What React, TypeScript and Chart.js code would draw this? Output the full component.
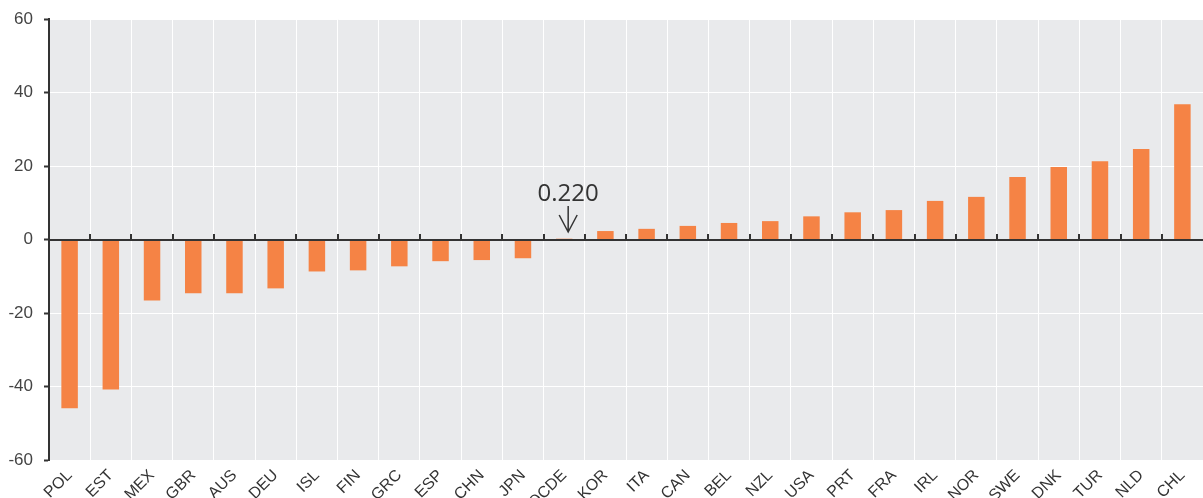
import React, { useEffect, useRef } from "react";
import { Chart, registerables } from "chart.js";

Chart.register(...registerables);

const categories = [
  "POL", "EST", "MEX", "GBR", "AUS", "DEU", "ISL", "FIN", "GRC", "ESP", "CHN", "JPN", "OCDE",
  "KOR", "ITA", "CAN", "BEL", "NZL", "USA", "PRT", "FRA", "IRL", "NOR", "SWE", "DNK", "TUR", "NLD", "CHL",
];
const values = [
  -45.9, -40.8, -16.6, -14.6, -14.6, -13.3, -8.7, -8.4, -7.3, -5.9, -5.6, -5.1, 0.22,
  2.3, 2.9, 3.7, 4.5, 5.0, 6.3, 7.4, 8.0, 10.5, 11.6, 17.0, 19.7, 21.3, 24.6, 36.8,
];
const annotationCategory = "OCDE";
const annotationText = "0.220";
const yMin = -60;
const yMax = 60;
const yStep = 20;

const AXIS_COLOR = "#333333";
const BG = "#e9eaec";
const BAR = "#f58345";

const bgPlugin = {
  id: "plotBg",
  beforeDraw(chart: any) {
    const { ctx, chartArea } = chart;
    ctx.save();
    ctx.fillStyle = BG;
    ctx.fillRect(chartArea.left, chartArea.top, chartArea.right - chartArea.left, chartArea.bottom - chartArea.top);
    ctx.restore();
  },
};

const zeroLinePlugin = {
  id: "zeroLine",
  afterDatasetsDraw(chart: any) {
    const { ctx, chartArea, scales } = chart;
    const y0 = Math.round(scales.y.getPixelForValue(0));
    ctx.save();
    ctx.strokeStyle = AXIS_COLOR;
    ctx.lineWidth = 2;
    ctx.beginPath();
    ctx.moveTo(chartArea.left, y0);
    ctx.lineTo(chartArea.right, y0);
    ctx.stroke();
    ctx.lineWidth = 2;
    for (let i = 0; i < categories.length - 1; i++) {
      const x = Math.round((scales.x.getPixelForValue(i) + scales.x.getPixelForValue(i + 1)) / 2);
      ctx.beginPath();
      ctx.moveTo(x, y0);
      ctx.lineTo(x, y0 - 6);
      ctx.stroke();
    }
    // annotation
    const idx = categories.indexOf(annotationCategory);
    const xa = scales.x.getPixelForValue(idx) + 4;
    ctx.fillStyle = "#333333";
    ctx.font = "24px 'Open Sans'";
    ctx.textAlign = "center";
    ctx.textBaseline = "alphabetic";
    ctx.fillText(annotationText, xa, y0 - 39);
    ctx.lineWidth = 1.5;
    ctx.beginPath();
    ctx.moveTo(xa, y0 - 34);
    ctx.lineTo(xa, y0 - 8);
    ctx.moveTo(xa - 9, y0 - 25);
    ctx.lineTo(xa, y0 - 8);
    ctx.lineTo(xa + 9, y0 - 25);
    ctx.stroke();
    ctx.restore();
  },
};

export default function App() {
  const ref = useRef<HTMLCanvasElement | null>(null);
  useEffect(() => {
    document.body.style.margin = "0";
    const chart = new Chart(ref.current as HTMLCanvasElement, {
      type: "bar",
      data: {
        labels: categories,
        datasets: [
          {
            data: values,
            backgroundColor: BAR,
            borderWidth: 0,
            barPercentage: 0.4,
            categoryPercentage: 1,
          },
        ],
      },
      options: {
        animation: false,
        responsive: false,
        devicePixelRatio: 1,
        layout: { padding: { top: 19, left: 0, right: 0, bottom: 0 } },
        plugins: { legend: { display: false }, tooltip: { enabled: false } },
        scales: {
          x: {
            grid: { color: "#ffffff", lineWidth: 1, drawTicks: false, offset: true },
            border: { display: false },
            ticks: {
              minRotation: 45,
              maxRotation: 45,
              autoSkip: false,
              padding: 6,
              color: "#333333",
              font: { family: "'Liberation Sans', Arial", size: 16 },
            },
            afterFit(scale: any) {
              scale.height = 38;
            },
          },
          y: {
            min: yMin,
            max: yMax,
            ticks: {
              stepSize: yStep,
              padding: 11,
              color: "#444444",
              font: { family: "'Liberation Sans', Arial", size: 17 },
            },
            grid: { color: "#ffffff", lineWidth: 1, tickColor: AXIS_COLOR, tickLength: 5, tickWidth: 2 },
            border: { display: true, color: AXIS_COLOR, width: 2 },
            afterFit(scale: any) {
              scale.width = 49;
              scale.paddingTop = 0;
              scale.paddingBottom = 0;
            },
          },
        },
      },
      plugins: [bgPlugin, zeroLinePlugin],
    });
    return () => chart.destroy();
  }, []);
  return (
    <div style={{ width: 1203, height: 498 }}>
      <canvas ref={ref} width={1203} height={498} />
    </div>
  );
}
